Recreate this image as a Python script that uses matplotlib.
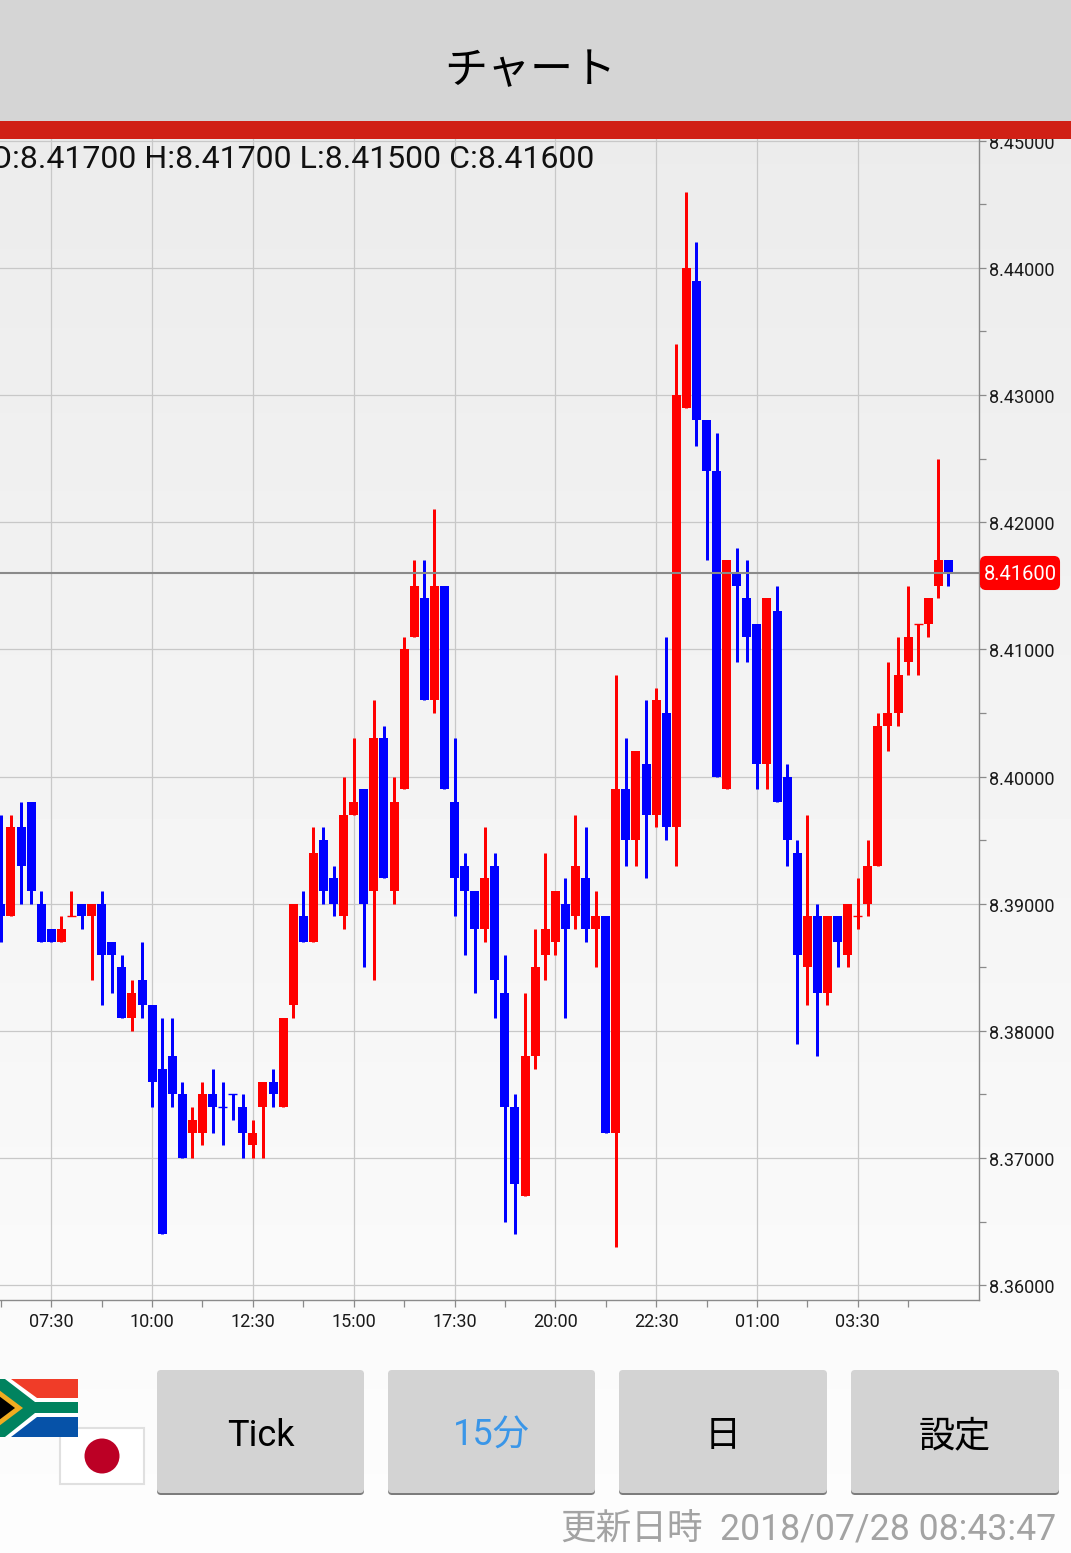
import matplotlib

matplotlib.use("Agg")
import matplotlib.pyplot as plt
import numpy as np
from matplotlib.patches import Circle, FancyBboxPatch, Polygon, Rectangle
from matplotlib.transforms import ScaledTranslation

# 15 minute candles, prices given as thousandths above 8.000
FIRST_INDEX = -5
wick_high = [
    397, 397, 398, 398, 391, 388, 389, 391, 390, 390, 391, 387, 386, 384, 387, 382,
    381, 381, 376, 374, 376, 377, 376, 375, 375, 373, 376, 377, 381, 390, 391, 396,
    396, 393, 400, 403, 399, 406, 404, 400, 411, 417, 417, 421, 415, 403, 394, 391,
    396, 394, 386, 375, 383, 388, 394, 391, 392, 397, 396, 391, 389, 408, 403, 402,
    406, 407, 411, 434, 446, 442, 428, 427, 417, 418, 417, 412, 414, 415, 401, 395,
    397, 390, 389, 389, 390, 392, 395, 405, 409, 411, 415, 412, 414, 425, 417,
]
body_top = [
    390, 396, 396, 398, 390, 388, 388, 389, 390, 390, 390, 387, 385, 383, 384, 382,
    377, 378, 375, 373, 375, 375, 374, 375, 374, 372, 376, 376, 381, 390, 389, 394,
    395, 392, 397, 398, 399, 403, 403, 398, 410, 415, 414, 415, 415, 398, 393, 391,
    392, 393, 383, 374, 378, 385, 388, 391, 390, 393, 392, 389, 389, 399, 399, 402,
    401, 406, 405, 430, 440, 439, 428, 424, 417, 416, 414, 412, 414, 413, 400, 394,
    389, 389, 389, 389, 390, 389, 393, 404, 405, 408, 411, 412, 414, 417, 417,
]
body_bottom = [
    389, 389, 393, 391, 387, 387, 387, 389, 389, 389, 386, 386, 381, 381, 382, 376,
    364, 375, 370, 372, 372, 374, 374, 375, 372, 371, 374, 375, 374, 382, 387, 387,
    391, 390, 389, 397, 390, 391, 392, 391, 399, 411, 406, 406, 399, 392, 391, 388,
    388, 384, 374, 368, 367, 378, 386, 387, 388, 389, 388, 388, 372, 372, 395, 395,
    397, 397, 396, 396, 429, 428, 424, 400, 399, 415, 411, 401, 401, 398, 395, 386,
    385, 383, 383, 387, 386, 389, 390, 393, 404, 405, 409, 412, 412, 415, 416,
]
wick_low = [
    387, 389, 390, 390, 387, 387, 387, 389, 388, 384, 382, 383, 381, 380, 381, 374,
    364, 374, 370, 370, 371, 372, 371, 373, 370, 370, 370, 374, 374, 381, 387, 387,
    390, 389, 388, 397, 385, 384, 392, 390, 399, 411, 406, 405, 399, 389, 386, 383,
    387, 381, 365, 364, 367, 377, 384, 386, 381, 388, 387, 385, 372, 363, 393, 393,
    392, 396, 395, 393, 429, 426, 417, 400, 399, 409, 409, 399, 399, 398, 393, 379,
    382, 378, 382, 385, 385, 388, 389, 393, 402, 404, 408, 408, 411, 414, 415,
]
candle_side = [
    "b", "r", "b", "b", "b", "b", "r", "r", "b", "r", "b", "b", "b", "r", "b", "b",
    "b", "b", "b", "r", "r", "b", "b", "b", "b", "r", "r", "b", "r", "r", "b", "r",
    "b", "b", "r", "r", "b", "r", "b", "r", "r", "r", "b", "r", "b", "b", "b", "b",
    "r", "b", "b", "b", "r", "r", "r", "r", "b", "r", "b", "r", "b", "r", "b", "r",
    "b", "r", "b", "r", "r", "b", "b", "b", "r", "b", "b", "b", "r", "b", "b", "b",
    "r", "b", "r", "b", "r", "r", "r", "r", "r", "r", "r", "r", "r", "r", "b",
]

time_labels = ["07:30", "10:00", "12:30", "15:00", "17:30", "20:00", "22:30", "01:00", "03:30"]
time_index = [0, 10, 20, 30, 40, 50, 60, 70, 80]
half_index = [-5, 5, 15, 25, 35, 45, 55, 65, 75, 85]
price_labelled = [8.36, 8.37, 8.38, 8.39, 8.40, 8.41, 8.42, 8.43, 8.44, 8.45]
price_between = [8.365, 8.375, 8.385, 8.395, 8.405, 8.415, 8.425, 8.435, 8.445]
last_price = 8.416
ohlc_text = "O:8.41700 H:8.41700 L:8.41500 C:8.41600"
button_labels = ["Tick", "15分", "日", "設定"]
updated_label = "更新日時"
updated_time = "2018/07/28 08:43:47"

plt.rcParams["font.family"] = ["Roboto", "Noto Sans CJK JP", "DejaVu Sans"]

W, H = 1071, 1553
SIDE_COLOUR = {"r": "#ff0000", "b": "#0000ff"}


def px_box(x0, y0, x1, y1):
    return [x0 / W, 1 - y1 / H, (x1 - x0) / W, (y1 - y0) / H]


fig = plt.figure(figsize=(W / 100, H / 100), dpi=100)

# page background, light grey fading to near white
bg = fig.add_axes([0, 0, 1, 1], zorder=0)
bg.imshow(np.linspace(0.918, 0.992, 256)[:, None], cmap="gray", vmin=0, vmax=1, aspect="auto")
bg.axis("off")

ax = fig.add_axes(px_box(0, 139, 979, 1300), zorder=1)
ax.patch.set_alpha(0)
ax.set_xlim(-51.3 / 10.08, (979 - 51.3) / 10.08)
ax.set_ylim(8.35884, 8.45013)

index = np.arange(FIRST_INDEX, FIRST_INDEX + len(wick_high))
high = 8 + np.array(wick_high) / 1000
low = 8 + np.array(wick_low) / 1000
top = 8 + np.array(body_top) / 1000
bottom = 8 + np.array(body_bottom) / 1000
colours = [SIDE_COLOUR[s] for s in candle_side]

ax.vlines(index, low, high, colors=colours, linewidth=2.16, zorder=3, capstyle="butt")
ax.bar(index, top - bottom, bottom=bottom, width=0.89, color=colours, linewidth=0, zorder=4)
flat = top == bottom
ax.hlines(
    top[flat], index[flat] - 0.445, index[flat] + 0.445,
    colors=[c for c, f in zip(colours, flat) if f], linewidth=1.0, zorder=4,
)

ax.axhline(last_price, color="#8a8a8a", linewidth=1.5, zorder=5)

ax.set_xticks(time_index, time_labels)
ax.set_xticks(half_index, minor=True)
ax.set_yticks(price_labelled, [f"{p:.5f}" for p in price_labelled])
ax.set_yticks(price_between, minor=True)
ax.yaxis.tick_right()
ax.grid(True, which="major", color="#c8c8c8", linewidth=0.9, zorder=1)
ax.set_axisbelow(True)
for name in ("top", "left"):
    ax.spines[name].set_visible(False)
for name in ("right", "bottom"):
    ax.spines[name].set_color("#8a8a8a")
    ax.spines[name].set_linewidth(1.0)
ax.tick_params(which="both", length=5.2, width=0.9, color="#8a8a8a")
ax.tick_params(axis="both", which="major", labelsize=13, labelcolor="#1a1a1a")
ax.tick_params(axis="x", pad=4)
ax.tick_params(axis="y", pad=2.2, which="major")
# price labels sit a little below their ticks
nudge = ScaledTranslation(0, -1 / 100, fig.dpi_scale_trans)
for lbl in ax.get_yticklabels():
    lbl.set_transform(lbl.get_transform() + nudge)

# everything around the chart is drawn in pixel space on top
ui = fig.add_axes([0, 0, 1, 1], zorder=2)
ui.patch.set_alpha(0)
ui.set_xlim(0, W)
ui.set_ylim(H, 0)
ui.axis("off")

ui.add_patch(Rectangle((0, 0), W, 121, color="#d5d5d5", linewidth=0))
ui.add_patch(Rectangle((0, 121), W, 18, color="#d02015", linewidth=0))
ui.text(530, 72, "チャート", fontsize=31, color="#000000", ha="center", va="center")
ui.text(-9.5, 160, ohlc_text, fontsize=23, color="#111111", ha="left", va="center", clip_on=True)

ui.add_patch(FancyBboxPatch(
    (981, 557), 78, 32, boxstyle="round,pad=0,rounding_size=5",
    facecolor="#ff0000", edgecolor="#ff0000", linewidth=1.5,
))
ui.text(1020, 574, f"{last_price:.5f}", fontsize=14.5, color="white", ha="center", va="center")

# South African flag, cut by the left edge
ui.add_patch(Rectangle((-9, 1379), 87, 58, color="white", linewidth=0))
ui.add_patch(Rectangle((-9, 1379), 87, 19, color="#f03c28", linewidth=0))
ui.add_patch(Rectangle((-9, 1417), 87, 20, color="#0652a8", linewidth=0))
ui.add_patch(Polygon(
    [(11, 1379), (37, 1398), (78, 1398), (78, 1417), (37, 1417), (11, 1437), (-9, 1437), (-9, 1379)],
    color="white", linewidth=0,
))
ui.add_patch(Polygon(
    [(5, 1379), (35, 1402), (78, 1402), (78, 1413), (35, 1413), (5, 1437), (-9, 1437), (-9, 1379)],
    color="#00835f", linewidth=0,
))
ui.add_patch(Polygon([(-9, 1384), (23, 1408), (-9, 1432)], color="#f0ac20", linewidth=0))
ui.add_patch(Polygon([(-9, 1390), (15, 1408), (-9, 1426)], color="#000000", linewidth=0))

# Japanese flag, behind the other one
ui.add_patch(Rectangle((60, 1428), 84, 56, facecolor="white", edgecolor="#e0e0e0", linewidth=1.5, zorder=0.5))
ui.add_patch(Circle((102, 1456), 17.5, color="#bc0025", linewidth=0, zorder=0.6))

button_left = [157, 388, 619, 851]
button_right = [364, 595, 827, 1059]
button_colour = ["#000000", "#3a96e8", "#000000", "#000000"]
for left, right, label, colour in zip(button_left, button_right, button_labels, button_colour):
    ui.add_patch(FancyBboxPatch(
        (left, 1372), right - left, 123, boxstyle="round,pad=0,rounding_size=4",
        facecolor="#7c7c7c", edgecolor="none",
    ))
    ui.add_patch(FancyBboxPatch(
        (left, 1370), right - left, 123, boxstyle="round,pad=0,rounding_size=4",
        facecolor="#d3d3d3", edgecolor="none",
    ))
    ui.text((left + right) / 2, 1436, label, fontsize=26, color=colour, ha="center", va="center")

ui.text(703, 1529, updated_label, fontsize=25.7, color="#a3a3a3", ha="right", va="center")
ui.text(1056, 1529, updated_time, fontsize=25.7, color="#a3a3a3", ha="right", va="center")

fig.savefig("out.png", dpi=100)
